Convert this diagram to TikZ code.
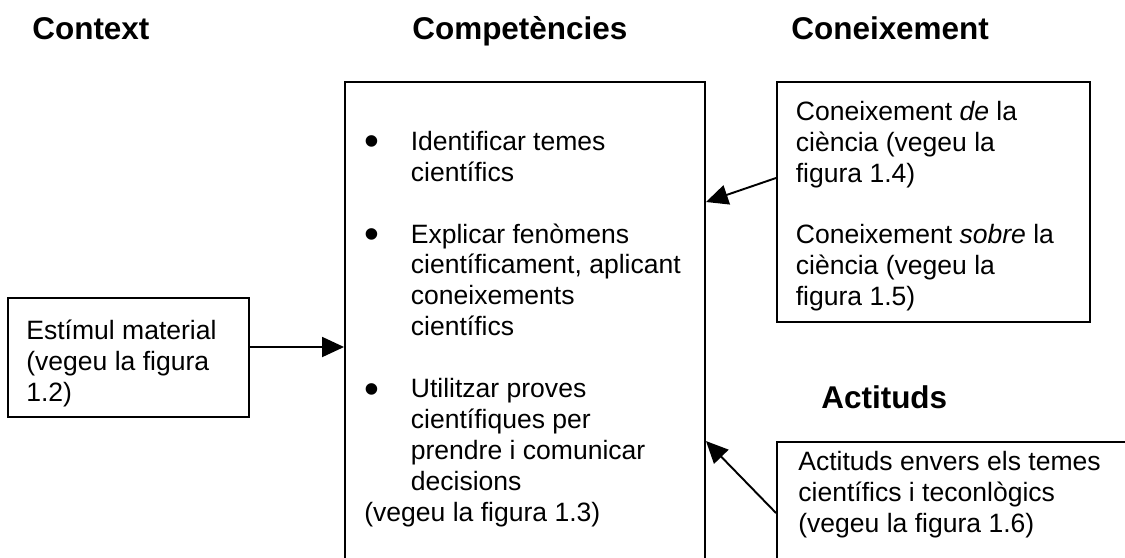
\documentclass[tikz,border=0pt]{standalone}
\usepackage{fontspec}
\setmainfont{Liberation Sans}
\usepackage{graphicx}
\usepackage{tikz}
\usetikzlibrary{arrows.meta}
\newcommand{\bigdot}{\raisebox{-3.2pt}{\scalebox{1.6}{\textbullet}}}

\begin{document}
\begin{tikzpicture}[
    box/.style={draw,line width=1.1pt,inner sep=0pt},
    txt/.style={anchor=base west,inner sep=0pt,font=\fontsize{15.1}{17.64}\selectfont},
    head/.style={anchor=base west,inner sep=0pt,font=\fontsize{17.9}{21}\selectfont\bfseries},
    arr/.style={-{Triangle[length=4.4mm,width=4mm]},line width=1.1pt}
  ]
  \path[use as bounding box,clip] (0,0) rectangle (22.5,-11.14);

  % headings
  \node[head] (hctx)  at (0.64,-0.78)  {Context};
  \node[head] (hcomp) at (8.24,-0.78)  {Competències};
  \node[head] (hknow) at (15.82,-0.78) {Coneixement};
  \node[head] (hatt)  at (16.42,-8.16) {Actituds};

  % boxes
  \node[box,minimum width=7.2cm,minimum height=10.86cm] (comp) at (10.5,-7.07) {};
  \node[box,minimum width=4.82cm,minimum height=2.38cm] (stim) at (2.57,-7.15) {};
  \node[box,minimum width=6.26cm,minimum height=4.8cm]  (know) at (18.67,-4.04) {};
  \node[box,minimum width=7.76cm,minimum height=2.84cm] (att)  at (19.42,-10.26) {};

  % box texts
  \node[txt] (comptxt) at (7.28,-3.00) {\begin{tabular}[t]{@{}p{0.93cm}@{}l@{}}
      \bigdot & Identificar temes\\
              & científics\\[17.64pt]
      \bigdot & Explicar fenòmens\\
              & científicament, aplicant\\
              & coneixements\\
              & científics\\[17.64pt]
      \bigdot & Utilitzar proves\\
              & científiques per\\
              & prendre i comunicar\\
              & decisions\\
      \multicolumn{2}{@{}l@{}}{(vegeu la figura 1.3)}
    \end{tabular}};
  \node[txt] (stimtxt) at (0.52,-6.78) {\begin{tabular}[t]{@{}l@{}}
      Estímul material\\ (vegeu la figura\\ 1.2)
    \end{tabular}};
  \node[txt] (knowtxt) at (15.91,-2.40) {\begin{tabular}[t]{@{}l@{}}
      Coneixement \textit{de} la\\ ciència (vegeu la\\ figura 1.4)\\[17.64pt]
      Coneixement \textit{sobre} la\\ ciència (vegeu la\\ figura 1.5)
    \end{tabular}};
  \node[txt] (atttxt) at (15.96,-9.40) {\begin{tabular}[t]{@{}l@{}}
      Actituds envers els temes\\ científics i teconlògics\\ (vegeu la figura 1.6)
    \end{tabular}};

  % arrows into the competencies
  \draw[arr] ([yshift=0.21cm]stim.east) coordinate (sx) -- (sx -| comp.west);
  \draw[arr] ([yshift=0.48cm]know.west) -- (comp.east |- know.west);
  \draw[arr] (att.west) -- (comp.east |- att.north);

\end{tikzpicture}
\end{document}
